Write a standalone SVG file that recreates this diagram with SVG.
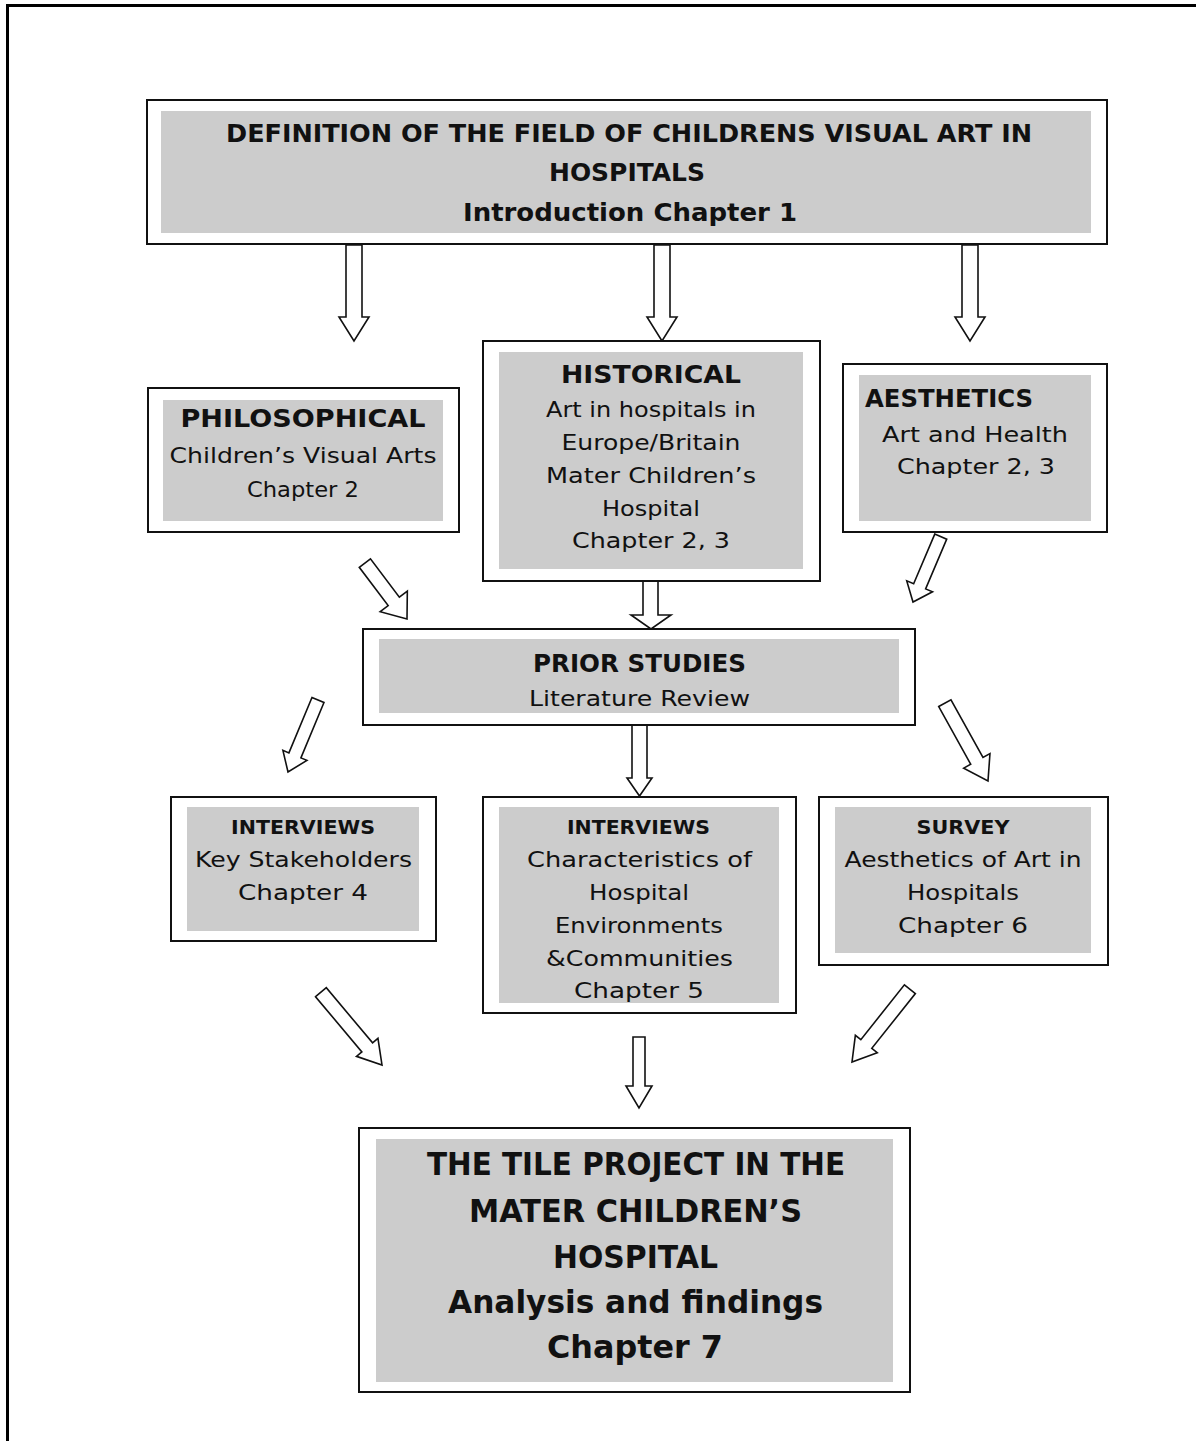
<svg xmlns="http://www.w3.org/2000/svg" width="1196" height="1441" viewBox="0 0 1196 1441">
<style>
.frame{fill:none;stroke:#000;stroke-width:3}
.box{fill:#fff;stroke:#111;stroke-width:2}
.inner{fill:#cccccc;stroke:none}
.arrow{fill:#fff;stroke:#111;stroke-width:1.6;stroke-linejoin:miter}
text{font-family:"DejaVu Sans","Liberation Sans",sans-serif;fill:#111;text-anchor:middle}
.b{font-weight:bold}
.t{font-size:24px}
.h{font-size:24px}
.r{font-size:22px}
.sb{font-size:20px}
.big{font-size:32px}
</style>
<rect width="1196" height="1441" fill="#fff"/>
<path class="frame" d="M7.5,1441 V5.5 H1200"/>

<g id="connectors">
<path class="arrow" d="M346,245 H362 V317 H369 L354,341 L339,317 H346 Z"/>
<path class="arrow" d="M654,245 H670 V317 H677 L662,341 L647,317 H654 Z"/>
<path class="arrow" d="M962,245 H978 V317 H985 L970,341 L955,317 H962 Z"/>
<g transform="translate(407,619) rotate(-37)"><path class="arrow" d="M-7,-70 H7 V-22 H17 L0,0 L-17,-22 H-7 Z"/></g>
<path class="arrow" d="M643,581 H658 V615 H671 L651,629 L631,615 H643 Z"/>
<g transform="translate(913,602) rotate(23)"><path class="arrow" d="M-6.5,-71 H6.5 V-17 H14 L0,0 L-14,-17 H-6.5 Z"/></g>
<g transform="translate(288,772) rotate(22.6)"><path class="arrow" d="M-6.5,-78 H6.5 V-18 H13 L0,0 L-13,-18 H-6.5 Z"/></g>
<path class="arrow" d="M632,725 H647 V778 H652 L639.5,796 L627,778 H632 Z"/>
<g transform="translate(988,781) rotate(-29)"><path class="arrow" d="M-7,-89 H7 V-23 H15 L0,0 L-15,-23 H-7 Z"/></g>
<g transform="translate(382,1065) rotate(-40)"><path class="arrow" d="M-7,-95 H7 V-23 H14 L0,0 L-14,-23 H-7 Z"/></g>
<path class="arrow" d="M633,1037 H645 V1086 H652 L639,1108 L626,1086 H633 Z"/>
<g transform="translate(852,1062) rotate(38.5)"><path class="arrow" d="M-7,-93 H7 V-23 H14 L0,0 L-14,-23 H-7 Z"/></g>
</g>

<g id="n-definition">
<rect class="box" x="147" y="100" width="960" height="144"/>
<rect class="inner" x="161" y="111" width="930" height="122"/>
<text class="b t" x="629" y="142" textLength="806" lengthAdjust="spacingAndGlyphs">DEFINITION OF THE FIELD OF CHILDRENS VISUAL ART IN</text>
<text class="b t" x="627" y="181" textLength="156" lengthAdjust="spacingAndGlyphs">HOSPITALS</text>
<text class="b t" x="630" y="221" textLength="334" lengthAdjust="spacingAndGlyphs">Introduction Chapter 1</text>
</g>

<g id="n-philosophical">
<rect class="box" x="148" y="388" width="311" height="144"/>
<rect class="inner" x="163" y="400" width="280" height="121"/>
<text class="b h" x="303" y="427" textLength="245" lengthAdjust="spacingAndGlyphs">PHILOSOPHICAL</text>
<text class="r" x="303" y="463" textLength="267" lengthAdjust="spacingAndGlyphs">Children’s Visual Arts</text>
<text class="r" x="303" y="497" textLength="112" lengthAdjust="spacingAndGlyphs">Chapter 2</text>
</g>

<g id="n-historical">
<rect class="box" x="483" y="341" width="337" height="240"/>
<rect class="inner" x="499" y="352" width="304" height="217"/>
<text class="b h" x="651" y="383" textLength="180" lengthAdjust="spacingAndGlyphs">HISTORICAL</text>
<text class="r" x="651" y="417" textLength="210" lengthAdjust="spacingAndGlyphs">Art in hospitals in</text>
<text class="r" x="651" y="450" textLength="179" lengthAdjust="spacingAndGlyphs">Europe/Britain</text>
<text class="r" x="651" y="483" textLength="210" lengthAdjust="spacingAndGlyphs">Mater Children’s</text>
<text class="r" x="651" y="516" textLength="98" lengthAdjust="spacingAndGlyphs">Hospital</text>
<text class="r" x="651" y="548" textLength="158" lengthAdjust="spacingAndGlyphs">Chapter 2, 3</text>
</g>

<g id="n-aesthetics">
<rect class="box" x="843" y="364" width="264" height="168"/>
<rect class="inner" x="859" y="375" width="232" height="146"/>
<text class="b h" x="865" y="407" style="text-anchor:start" textLength="168" lengthAdjust="spacingAndGlyphs">AESTHETICS</text>
<text class="r" x="975" y="442" textLength="186" lengthAdjust="spacingAndGlyphs">Art and Health</text>
<text class="r" x="976" y="474" textLength="158" lengthAdjust="spacingAndGlyphs">Chapter 2, 3</text>
</g>

<g id="n-prior">
<rect class="box" x="363" y="629" width="552" height="96"/>
<rect class="inner" x="379" y="639" width="520" height="74"/>
<text class="b h" x="639.5" y="672" textLength="213" lengthAdjust="spacingAndGlyphs">PRIOR STUDIES</text>
<text class="r" x="639.5" y="706" textLength="221" lengthAdjust="spacingAndGlyphs">Literature Review</text>
</g>

<g id="n-interviews1">
<rect class="box" x="171" y="797" width="265" height="144"/>
<rect class="inner" x="187" y="807" width="232" height="124"/>
<text class="b sb" x="303" y="834" textLength="144" lengthAdjust="spacingAndGlyphs">INTERVIEWS</text>
<text class="r" x="303.5" y="867" textLength="217" lengthAdjust="spacingAndGlyphs">Key Stakeholders</text>
<text class="r" x="303" y="900" textLength="130" lengthAdjust="spacingAndGlyphs">Chapter 4</text>
</g>

<g id="n-interviews2">
<rect class="box" x="483" y="797" width="313" height="216"/>
<rect class="inner" x="499" y="807" width="280" height="196"/>
<text class="b sb" x="638.5" y="834" textLength="143" lengthAdjust="spacingAndGlyphs">INTERVIEWS</text>
<text class="r" x="639.5" y="867" textLength="225" lengthAdjust="spacingAndGlyphs">Characteristics of</text>
<text class="r" x="639" y="900" textLength="100" lengthAdjust="spacingAndGlyphs">Hospital</text>
<text class="r" x="639" y="933" textLength="168" lengthAdjust="spacingAndGlyphs">Environments</text>
<text class="r" x="639.5" y="966" textLength="187" lengthAdjust="spacingAndGlyphs">&amp;Communities</text>
<text class="r" x="639" y="998" textLength="130" lengthAdjust="spacingAndGlyphs">Chapter 5</text>
</g>

<g id="n-survey">
<rect class="box" x="819" y="797" width="289" height="168"/>
<rect class="inner" x="835" y="807" width="256" height="146"/>
<text class="b sb" x="963" y="834" textLength="93" lengthAdjust="spacingAndGlyphs">SURVEY</text>
<text class="r" x="963" y="867" textLength="237" lengthAdjust="spacingAndGlyphs">Aesthetics of Art in</text>
<text class="r" x="963" y="900" textLength="112" lengthAdjust="spacingAndGlyphs">Hospitals</text>
<text class="r" x="963" y="933" textLength="130" lengthAdjust="spacingAndGlyphs">Chapter 6</text>
</g>

<g id="n-tile">
<rect class="box" x="359" y="1128" width="551" height="264"/>
<rect class="inner" x="376" y="1139" width="517" height="243"/>
<text class="b big" x="636" y="1175" textLength="418" lengthAdjust="spacingAndGlyphs">THE TILE PROJECT IN THE</text>
<text class="b big" x="635.5" y="1222" textLength="333" lengthAdjust="spacingAndGlyphs">MATER CHILDREN’S</text>
<text class="b big" x="635.5" y="1268" textLength="165" lengthAdjust="spacingAndGlyphs">HOSPITAL</text>
<text class="b big" x="635.5" y="1313" textLength="375" lengthAdjust="spacingAndGlyphs">Analysis and findings</text>
<text class="b big" x="635" y="1358" textLength="176" lengthAdjust="spacingAndGlyphs">Chapter 7</text>
</g>
</svg>
